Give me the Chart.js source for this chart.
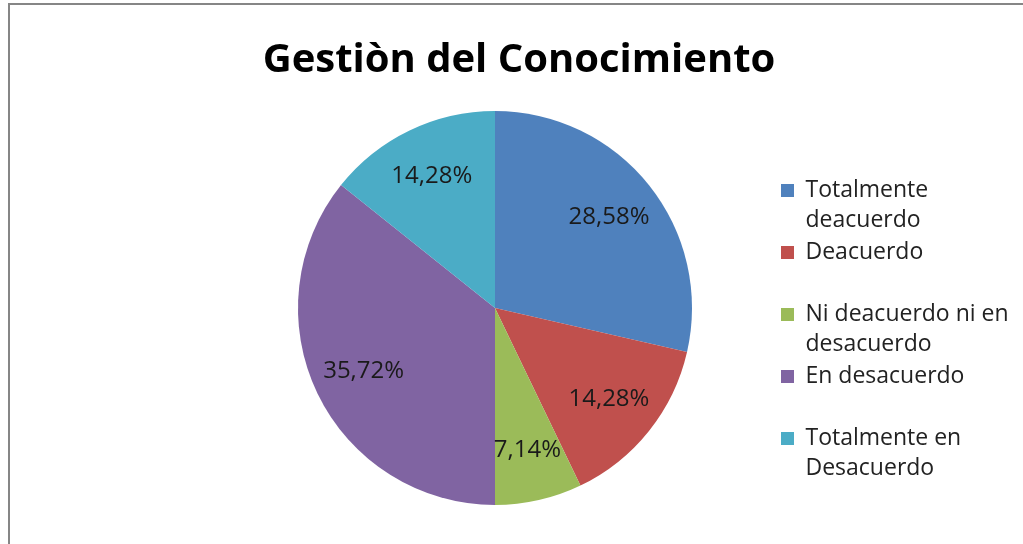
<!DOCTYPE html>
<html><head><meta charset="utf-8">
<script src="https://cdn.jsdelivr.net/npm/chart.js@4/dist/chart.umd.min.js"></script>
<style>html,body{margin:0;padding:0;background:#fff;}#wrap{position:relative;width:1023px;height:544px;}</style>
</head><body><div id="wrap"><canvas id="c" width="1023" height="544"></canvas></div>
<script>
const chartTitle = 'Gestiòn del Conocimiento';
const categories = ['Totalmente deacuerdo', 'Deacuerdo', 'Ni deacuerdo ni en desacuerdo', 'En desacuerdo', 'Totalmente en Desacuerdo'];
const legendLines = [['Totalmente', 'deacuerdo'], ['Deacuerdo', ''], ['Ni deacuerdo ni en', 'desacuerdo'], ['En desacuerdo', ''], ['Totalmente en', 'Desacuerdo']];
const values = [28.58, 14.28, 7.14, 35.72, 14.28];
const valueLabels = ['28,58%', '14,28%', '7,14%', '35,72%', '14,28%'];
const colors = ['#4F81BD', '#C0504D', '#9BBB59', '#8064A2', '#4BACC6'];

const framePlugin = {
  id: 'frame',
  beforeDraw(chart) {
    const ctx = chart.ctx;
    ctx.save();
    ctx.fillStyle = '#ffffff';
    ctx.fillRect(0, 0, chart.width, chart.height);
    ctx.fillStyle = '#868686';
    ctx.fillRect(8, 3, chart.width - 8, 2);
    ctx.fillRect(8, 3, 2, chart.height - 3);
    ctx.restore();
  }
};
const titleShift = {
  id: 'titleShift',
  afterLayout(chart) {
    if (chart.titleBlock) { chart.titleBlock.left = 0; chart.titleBlock.right = chart.width + 15; }
  }
};
const valueLabelPlugin = {
  id: 'valueLabels',
  afterDatasetsDraw(chart) {
    const ctx = chart.ctx;
    const meta = chart.getDatasetMeta(0);
    ctx.save();
    ctx.font = '24px "Open Sans"';
    ctx.fillStyle = '#1a1a1a';
    ctx.textAlign = 'center';
    ctx.textBaseline = 'middle';
    meta.data.forEach((arc, i) => {
      const p = arc.getProps(['x', 'y', 'startAngle', 'endAngle', 'outerRadius'], true);
      const mid = (p.startAngle + p.endAngle) / 2;
      const r = p.outerRadius * 0.74;
      ctx.fillText(valueLabels[i], p.x + Math.cos(mid) * r, p.y + Math.sin(mid) * r);
    });
    ctx.restore();
  }
};

const chart = new Chart(document.getElementById('c'), {
  type: 'pie',
  data: {
    labels: categories,
    datasets: [{ data: values, backgroundColor: colors, borderWidth: 0 }]
  },
  options: {
    responsive: false,
    animation: false,
    devicePixelRatio: 1,
    layout: { padding: { left: 211, right: 0, top: 12, bottom: 39 } },
    plugins: {
      title: {
        display: true,
        text: chartTitle,
        color: '#000000',
        font: { family: 'Open Sans', size: 40, weight: 'bold', lineHeight: 1.2 },
        padding: { top: 25, bottom: 26 }
      },
      legend: {
        position: 'right',
        align: 'center',
        title: { display: true, text: '', font: { size: 10, lineHeight: 1 }, padding: { top: 69, bottom: 70 } },
        labels: {
          boxWidth: 13,
          boxHeight: 13,
          padding: 2,
          color: '#222222',
          font: { family: 'Open Sans', size: 23, lineHeight: '30px' },
          generateLabels: () => legendLines.map((t, i) => ({
            text: t, fillStyle: colors[i], strokeStyle: colors[i], lineWidth: 0, hidden: false, index: i, fontColor: '#222222'
          }))
        }
      },
      tooltip: { enabled: false }
    }
  },
  plugins: [framePlugin, titleShift, valueLabelPlugin]
});
chart.options.layout.padding.right = Math.max(0, chart.width - 779 - chart.legend.width);
chart.update();
</script></body></html>
